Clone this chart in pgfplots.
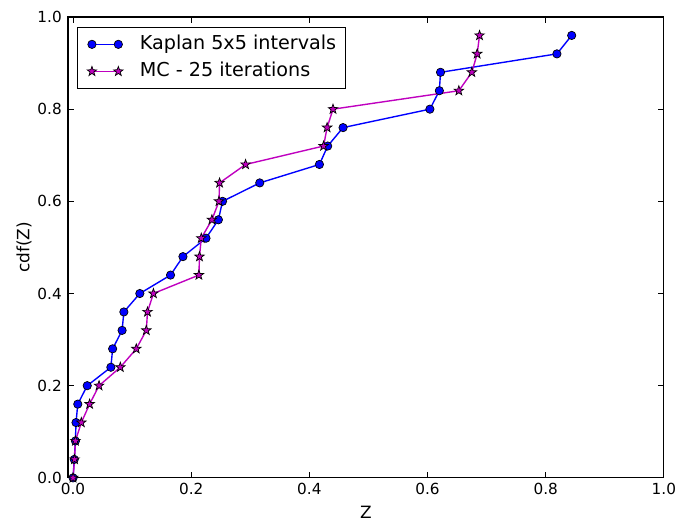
\documentclass[border=0pt]{standalone}
\usepackage{fontspec}
\setmainfont{DejaVu Sans}
\usepackage{pgfplots}
\pgfplotsset{compat=1.18}

\definecolor{kblue}{rgb}{0,0,1}
\definecolor{mcmag}{rgb}{0.75,0,0.75}

% filled five-pointed star
\pgfdeclareplotmark{fstar}{%
  \pgfpathmoveto{\pgfpointpolar{90}{\pgfplotmarksize}}%
  \pgfpathlineto{\pgfpointpolar{126}{0.40\pgfplotmarksize}}%
  \pgfpathlineto{\pgfpointpolar{162}{\pgfplotmarksize}}%
  \pgfpathlineto{\pgfpointpolar{198}{0.40\pgfplotmarksize}}%
  \pgfpathlineto{\pgfpointpolar{234}{\pgfplotmarksize}}%
  \pgfpathlineto{\pgfpointpolar{270}{0.40\pgfplotmarksize}}%
  \pgfpathlineto{\pgfpointpolar{306}{\pgfplotmarksize}}%
  \pgfpathlineto{\pgfpointpolar{342}{0.40\pgfplotmarksize}}%
  \pgfpathlineto{\pgfpointpolar{18}{\pgfplotmarksize}}%
  \pgfpathlineto{\pgfpointpolar{54}{0.40\pgfplotmarksize}}%
  \pgfpathclose
  \pgfusepathqfillstroke
}

\begin{document}
\begin{tikzpicture}
\begin{axis}[
  scale only axis,
  width=429.1pt, height=331.9pt,
  xmin=-0.0085, xmax=1.0,
  ymin=0, ymax=1.0,
  xtick={0,0.2,0.4,0.6,0.8,1.0},
  ytick={0,0.2,0.4,0.6,0.8,1.0},
  tick align=inside,
  tick pos=both,
  major tick length=4pt,
  every tick/.style={black, line width=0.6pt},
  axis line style={black, line width=0.8pt},
  /pgf/number format/.cd, fixed, fixed zerofill, precision=1, assume math mode=true,
  /pgfplots/.cd,
  tick label style={font=\fontsize{11}{13}\selectfont, inner sep=0pt},
  xticklabel style={yshift=-3.8pt},
  yticklabel style={xshift=-4.3pt},
  xlabel={Z},
  ylabel={cdf(Z)},
  label style={font=\fontsize{12.2}{14}\selectfont},
  xlabel style={at={(axis description cs:0.5,-0.074)}, anchor=center},
  ylabel style={at={(axis description cs:-0.074,0.5)}, anchor=center},
  legend cell align=left,
  legend image code/.code={%
    \draw[#1] plot coordinates {(0pt,0pt) (19pt,0pt)};
    \path (0pt,-4pt) (34pt,4pt);
  },
  legend style={
    at={(axis description cs:0,1)}, anchor=north west,
    xshift=6.5pt, yshift=-7.4pt,
    draw=black, line width=0.6pt,
    inner xsep=7pt, inner ysep=5.5pt,
    row sep=6.5pt,
    font=\fontsize{13.8}{16}\selectfont,
    nodes={inner sep=0pt, text height=10pt, text depth=3pt},
  },
]
\addplot[color=kblue, line width=1pt, mark=*, mark size=3pt,
  mark options={fill=kblue, draw=black, line width=0.5pt}] coordinates {
  (0.000,0.00) (0.002,0.04) (0.004,0.08) (0.005,0.12) (0.008,0.16)
  (0.024,0.20) (0.064,0.24) (0.067,0.28) (0.083,0.32) (0.086,0.36)
  (0.113,0.40) (0.165,0.44) (0.186,0.48) (0.225,0.52) (0.246,0.56)
  (0.253,0.60) (0.316,0.64) (0.417,0.68) (0.431,0.72) (0.457,0.76)
  (0.604,0.80) (0.620,0.84) (0.622,0.88) (0.819,0.92) (0.844,0.96)
};
\addlegendentry{Kaplan 5x5 intervals}
\addplot[color=mcmag, line width=1pt, mark=fstar, mark size=3.6pt,
  mark options={fill=mcmag, draw=black, line width=0.5pt}] coordinates {
  (0.000,0.00) (0.0025,0.04) (0.004,0.08) (0.014,0.12) (0.028,0.16)
  (0.044,0.20) (0.080,0.24) (0.107,0.28) (0.124,0.32) (0.126,0.36)
  (0.136,0.40) (0.213,0.44) (0.214,0.48) (0.217,0.52) (0.235,0.56)
  (0.247,0.60) (0.248,0.64) (0.292,0.68) (0.424,0.72) (0.430,0.76)
  (0.440,0.80) (0.653,0.84) (0.675,0.88) (0.684,0.92) (0.688,0.96)
};
\addlegendentry{MC - 25 iterations}
\end{axis}
\path ([shift={(-49pt,-30.24pt)}]current axis.south west)
  rectangle ([shift={(8.64pt,12.24pt)}]current axis.north east);
\end{tikzpicture}
\end{document}
